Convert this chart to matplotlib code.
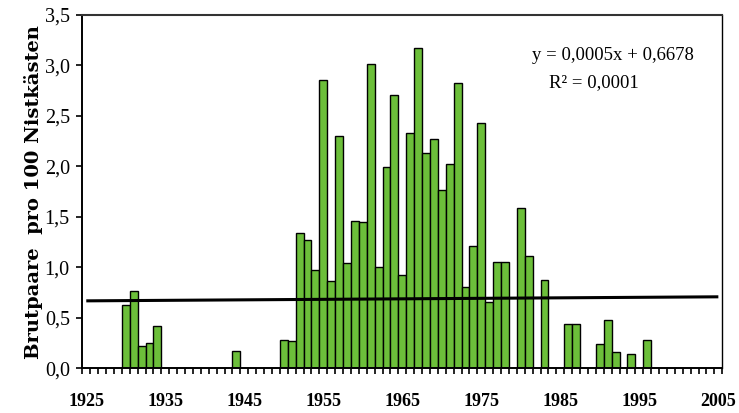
import matplotlib
matplotlib.use("Agg")
import matplotlib.pyplot as plt
import numpy as np

# ---- data ----
years = [1930, 1931, 1932, 1933, 1934, 1944, 1950, 1951, 1952, 1953, 1954,
         1955, 1956, 1957, 1958, 1959, 1960, 1961, 1962, 1963, 1964, 1965,
         1966, 1967, 1968, 1969, 1970, 1971, 1972, 1973, 1974, 1975, 1976,
         1977, 1978, 1980, 1981, 1983, 1986, 1987, 1990, 1991, 1992, 1994,
         1996]
values = [0.63, 0.77, 0.22, 0.25, 0.42, 0.17, 0.28, 0.27, 1.34, 1.27, 0.97,
          2.86, 0.86, 2.30, 1.04, 1.46, 1.45, 3.01, 1.00, 1.99, 2.71, 0.92,
          2.33, 3.17, 2.13, 2.27, 1.77, 2.02, 2.83, 0.81, 1.21, 2.43, 0.66,
          1.05, 1.05, 1.59, 1.11, 0.87, 0.44, 0.44, 0.24, 0.48, 0.16, 0.14,
          0.28]
first_year, last_year = 1925, 2005
xtick_labels = ["1925", "1935", "1945", "1955", "1965", "1975", "1985", "1995", "2005"]
ytick_values = [0.0, 0.5, 1.0, 1.5, 2.0, 2.5, 3.0, 3.5]
trend_slope = 0.0005
trend_intercept = 0.6678
eq_text = "y = 0,0005x + 0,6678"
r2_text = "R² = 0,0001"
ylabel = "Brutpaare  pro 100 Nistkästen"

serif = "Liberation Serif"

fig = plt.figure(figsize=(7.39, 4.13), dpi=100)
ax = fig.add_axes([0.1114, 0.1082, 0.8660, 0.8555])

ax.bar(years, values, width=1.0, color="#6cbf3a", edgecolor="black",
       linewidth=1.0, zorder=2)

# trend line over all categories (index 1..N)
all_years = np.arange(first_year, last_year + 1)
idx = np.arange(1, len(all_years) + 1)
ax.plot(all_years, trend_slope * idx + trend_intercept, color="black",
        linewidth=2.2, zorder=3, solid_capstyle="butt")

ax.set_xlim(first_year - 0.5, last_year + 0.5)
ax.set_ylim(0, 3.5)

ax.set_xticks([int(t) for t in xtick_labels])
ax.set_xticklabels(xtick_labels, fontfamily=serif, fontweight="bold", fontsize=13)
ax.set_xticks(np.arange(first_year - 0.5, last_year + 1.0, 1.0), minor=True)
ax.tick_params(axis="x", which="major", length=0, pad=18)
ax.tick_params(axis="x", which="minor", length=4, width=1.2, direction="out")

ax.set_yticks(ytick_values)
ax.set_yticklabels([f"{v:.1f}".replace(".", ",") for v in ytick_values],
                   fontfamily=serif, fontsize=14.5)
ax.tick_params(axis="y", length=4, width=1.2, direction="out", pad=5)

ax.set_ylabel(ylabel, fontfamily="DejaVu Serif", fontweight="bold", fontsize=14, labelpad=1)

for side in ["left", "bottom"]:
    ax.spines[side].set_linewidth(1.4)
    ax.spines[side].set_color("black")
ax.spines["top"].set_linewidth(1.5)
ax.spines["top"].set_color("#333333")
ax.spines["right"].set_linewidth(1.0)
ax.spines["right"].set_color("black")

ax.text(0.829, 0.885, eq_text, transform=ax.transAxes, ha="center", va="center",
        fontfamily=serif, fontsize=13.5)
ax.text(0.800, 0.808, r2_text, transform=ax.transAxes, ha="center", va="center",
        fontfamily=serif, fontsize=13.5)

fig.savefig("out.png", dpi=100)
